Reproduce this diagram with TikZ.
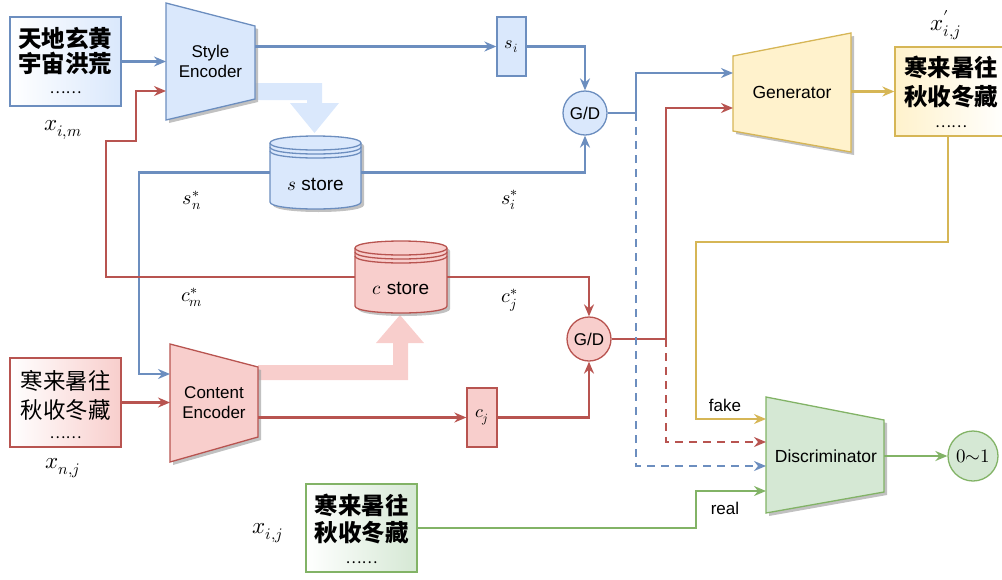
\documentclass[tikz,border=0pt]{standalone}
\usepackage{fontspec}
\usepackage{unicode-math}
\setmathfont{Latin Modern Math}
\setsansfont{Liberation Sans}
\newfontfamily\cjk{Noto Sans CJK SC}
\usetikzlibrary{arrows.meta,shadows}

\definecolor{bS}{HTML}{6C8EBF}\definecolor{bF}{HTML}{DAE8FC}
\definecolor{rS}{HTML}{B85450}\definecolor{rF}{HTML}{F8CECC}
\definecolor{yS}{HTML}{D6B656}\definecolor{yF}{HTML}{FFF2CC}
\definecolor{gS}{HTML}{82B366}\definecolor{gF}{HTML}{D5E8D4}

\tikzset{
  plainwire/.style={line width=2.7pt, draw=#1},
  wire/.style={plainwire=#1, -{Stealth[length=12pt,width=10pt,inset=4pt]}},
  dashwire/.style={wire=#1, dash pattern=on 8pt off 6pt},
  castshadow/.style={drop shadow={shadow xshift=3pt, shadow yshift=-3pt, fill=black!35, opacity=0.7}},
  charbox/.style 2 args={draw=#1, line width=1.3pt, left color=white, right color=#2,
    minimum width=111pt, minimum height=89pt, inner sep=0pt},
  port/.style={draw=none, inner sep=0pt},
  lbl/.style={font=\sffamily\fontsize{17}{20}\selectfont, align=center, inner sep=0pt},
  storelbl/.style={font=\sffamily\fontsize{19}{20}\selectfont, inner sep=0pt},
  mlbl/.style={font=\fontsize{18}{18}\selectfont, inner sep=0pt},
  starlbl/.style={font=\fontsize{20}{20}\selectfont, inner sep=0pt},
  biglbl/.style={font=\fontsize{23}{23}\selectfont, inner sep=0pt},
  hanbold/.style={font=\cjk\bfseries\fontsize{23.5}{23.5}\selectfont, inner sep=0pt},
  hanthin/.style={font=\cjk\fontsize{22.5}{22.5}\selectfont, inner sep=0pt},
  hdots/.style={font=\cjk\fontsize{15}{15}\selectfont, inner sep=0pt},
  gd/.style 2 args={circle, draw=#1, fill=#2, line width=1.3pt, minimum size=44pt,
    inner sep=0pt, font=\sffamily\fontsize{17}{20}\selectfont},
  codebox/.style={rectangle, draw=#1, line width=1.3pt, inner sep=0pt}
}

% data-store drum: left, top, right, bottom, fill, stroke
\newcommand\storedrum[6]{%
  \filldraw[fill=#5, draw=#6, line width=1.3pt, castshadow]
    (#1,#2+7) -- (#1,#4-7) .. controls (#1,#4+2.33) and (#3,#4+2.33) .. (#3,#4-7)
    -- (#3,#2+7) .. controls (#3,#2-2.33) and (#1,#2-2.33) .. (#1,#2+7) -- cycle;
  \foreach \d in {0,4,8}
    \draw[draw=#6, line width=1.3pt] (#1,#2+7+\d) .. controls (#1,#2+16.33+\d) and (#3,#2+16.33+\d) .. (#3,#2+7+\d);
}

\begin{document}
\begin{tikzpicture}[x=1pt,y=-1pt]
\useasboundingbox (0,0) rectangle (1002,579);

% broad feed arrows into the two stores
\fill[bF] (255,83) -- (322,83) -- (322,103) -- (339,103) -- (314.5,133) -- (290,103)
  -- (307,103) -- (307,100) -- (255,100) -- cycle;
\fill[rF] (258,380) -- (258,365) -- (393,365) -- (393,343) -- (376,343) -- (400,315)
  -- (424,343) -- (408,343) -- (408,380) -- cycle;

% encoders, generator and discriminator
\filldraw[fill=bF, draw=bS, line width=1.3pt, castshadow] (166,3) -- (255,26) -- (255,99) -- (166,120) -- cycle;
\node[lbl] (senc) at (210.5,61.5) {Style\\Encoder};
\filldraw[fill=rF, draw=rS, line width=1.3pt, castshadow] (170,344) -- (258,367) -- (258,437) -- (170,462) -- cycle;
\node[lbl] (cenc) at (214,403) {Content\\Encoder};
\filldraw[fill=yF, draw=yS, line width=1.3pt, castshadow] (733,56) -- (851,33) -- (851,152) -- (733,131) -- cycle;
\node[lbl, font=\sffamily\fontsize{17.5}{20}\selectfont] (gen) at (792,92.5) {Generator};
\filldraw[fill=gF, draw=gS, line width=1.3pt, castshadow] (766,397) -- (884,420) -- (884,492) -- (766,513) -- cycle;
\node[lbl, font=\sffamily\fontsize{17.5}{20}\selectfont] (disc) at (826,456) {Discriminator};

% ports on the slanted blocks
\coordinate (senc-in) at (166,61.5);
\coordinate (senc-c) at (166,91);
\coordinate (senc-out) at (255,46.5);
\coordinate (cenc-s) at (170,374);
\coordinate (cenc-in) at (170,402.5);
\coordinate (cenc-out) at (258,417.5);
\coordinate (gen-s) at (733,73);
\coordinate (gen-c) at (733,108);
\coordinate (gen-out) at (851,91.5);
\coordinate (disc-fake) at (766,419);
\coordinate (disc-c) at (766,442);
\coordinate (disc-s) at (766,466);
\coordinate (disc-real) at (766,491);
\coordinate (disc-out) at (884,456);

% stores
\storedrum{270}{136}{361}{209}{bF}{bS}
\node[port, minimum width=91pt, minimum height=73pt] (sstore) at (315.5,172.5) {};
\node[storelbl] (sstore-t) at (315.5,184) {$s$ store};
\storedrum{355}{241}{447}{313}{rF}{rS}
\node[port, minimum width=92pt, minimum height=72pt] (cstore) at (401,277) {};
\node[storelbl] (cstore-t) at (401,288) {$c$ store};

% glyph sheets
\node[charbox={bS}{bF}] (in1) at (65.5,61.5) {};
\node[hanbold] (in1-a) at (65.5,38.5) {天地玄黄};
\node[hanbold] (in1-b) at (65.5,63.5) {宇宙洪荒};
\node[hdots] (in1-c) at (65.5,93) {……};
\node[biglbl] (lxim) at (63,130) {$x_{i,m}$};

\node[charbox={rS}{rF}] (in2) at (65.5,402.5) {};
\node[hanthin] (in2-a) at (65.5,380.5) {寒来暑往};
\node[hanthin] (in2-b) at (65.5,410) {秋收冬藏};
\node[hdots] (in2-c) at (65.5,437.5) {……};
\node[biglbl] (lxnj) at (63,468) {$x_{n,j}$};

\node[charbox={yS}{yF}, left color=yF, right color=white, minimum width=113pt] (out) at (951.5,91.5) {};
\node[hanbold] (out-a) at (951,67) {寒来暑往};
\node[hanbold] (out-b) at (951,97) {秋收冬藏};
\node[hdots] (out-c) at (951,126.5) {……};
\node[biglbl] (lxp) at (946,25) {$x'_{i,j}$};

\node[charbox={gS}{gF}, minimum height=88pt] (real) at (361.5,528) {};
\node[hanbold] (real-a) at (361.5,505) {寒来暑往};
\node[hanbold] (real-b) at (361.5,533) {秋收冬藏};
\node[hdots] (real-c) at (361.5,562.5) {……};
\node[biglbl] (lxij) at (268,533) {$x_{i,j}$};

% code boxes and switches
\node[codebox=bS, fill=bF, minimum width=29pt, minimum height=59pt, mlbl] (si) at (511.5,46.5) {$s_i$};
\node[codebox=rS, fill=rF, minimum width=30pt, minimum height=59pt, mlbl] (cj) at (482,417.5) {$c_j$};
\node[gd={bS}{bF}] (gd1) at (585,113) {G/D};
\node[gd={rS}{rF}] (gd2) at (589,339) {G/D};
\node[circle, draw=gS, fill=gF, line width=1.3pt, minimum size=50pt, inner sep=0pt,
  font=\fontsize{19}{19}\selectfont] (res) at (973,456) {$0{\sim}1$};

% code labels
\node[starlbl] (lsn) at (192,200) {$s_n^*$};
\node[starlbl] (lsi) at (510,200) {$s_i^*$};
\node[starlbl] (lcm) at (192,297) {$c_m^*$};
\node[starlbl] (lcj) at (510,300) {$c_j^*$};

% style path
\draw[wire=bS] (in1.east) -- (senc-in);
\draw[wire=bS] (senc-out) -- (si.west);
\draw[wire=bS] (si.east) -| (gd1.north);
\draw[wire=bS] (sstore.east) -| (gd1.south);
\draw[wire=bS] (sstore.west) -- (139,172.5) |- (cenc-s);

% content path
\draw[wire=rS] (in2.east) -- (cenc-in);
\draw[wire=rS] (cenc-out) -- (cj.west);
\draw[wire=rS] (cj.east) -| (gd2.south);
\draw[wire=rS] (cstore.east) -| (gd2.north);
\draw[wire=rS] (cstore.west) -- (106,277) |- (136,141) |- (senc-c);

% switches to generator / discriminator
\coordinate (j1) at (636,113);
\coordinate (j2) at (666,339);
\draw[wire=bS] (gd1.east) -- (j1) |- (gen-s);
\draw[wire=rS] (gd2.east) -- (j2) |- (gen-c);
\draw[dashwire=bS] (j1) |- (disc-s);
\draw[dashwire=rS] (j2) |- (disc-c);

% generator output and discriminator inputs
\draw[wire=yS] (gen-out) -- (out.west);
\draw[wire=yS] (out.south -| 948,0) |- (696,242) |- (disc-fake);
\draw[wire=gS] (real.east) -- (696,528) |- (disc-real);
\draw[wire=gS] (disc-out) -- (res.west);
\node[lbl] (fake) at (725,405) {fake};
\node[lbl] (reallbl) at (725,508) {real};
\end{tikzpicture}
\end{document}
